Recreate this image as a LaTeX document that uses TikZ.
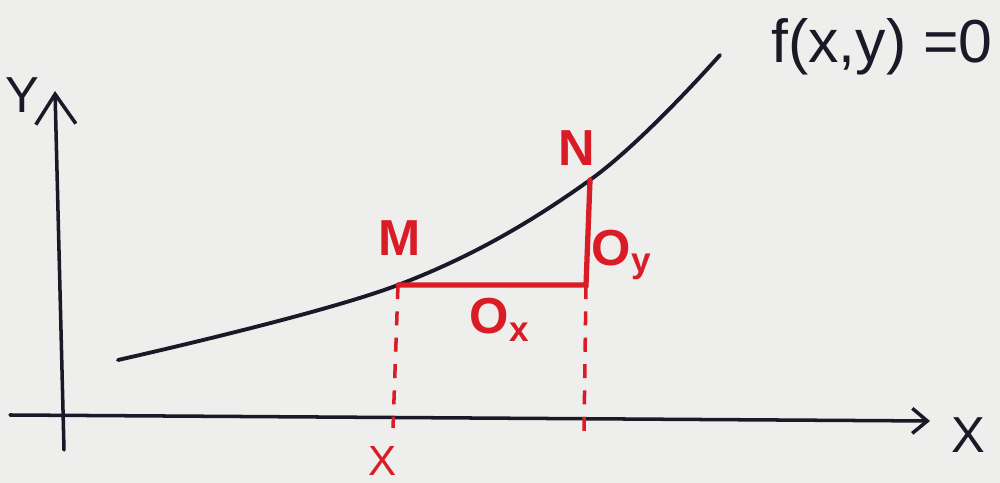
\documentclass[tikz,border=0pt]{standalone}
\usepackage{fontspec}
\setmainfont{Liberation Sans}
\usepackage{xcolor}
\usepackage{tikz}
\usetikzlibrary{positioning, arrows.meta}
\definecolor{paper}  {RGB}{238, 238, 236}
\definecolor{inkblack}{RGB}{25,  25,  40}
\definecolor{inkred} {RGB}{218, 28,  38}
\tikzset{
  axisline/.style={
    draw=inkblack, line width=1pt, line cap=round,
    -{Straight Barb[length=3mm, width=4mm]}
  },
  curveline/.style={
    draw=inkblack, line width=1.1pt, line cap=round
  },
  stepline/.style={
    draw=inkred, line width=1.5pt, line cap=round
  },
  dropline/.style={
    draw=inkred, line width=1pt, dash pattern=on 4pt off 3.5pt
  },
  blacklabel/.style={
    text=inkblack, font=\Large, inner sep=1pt
  },
  redlabel/.style={
    text=inkred, font=\Large\bfseries, inner sep=1pt
  },
}
\begin{document}
\begin{tikzpicture}
  % Paper
  \useasboundingbox[fill=paper] (0,0) rectangle (10,4.83);

  % Axes
  \coordinate (ybot) at (0.64,0.33);
  \coordinate (ytop) at (0.55,3.92);
  \coordinate (xleft) at (0.10,0.68);
  \coordinate (xright) at (9.30,0.62);
  \draw[axisline] (ybot) -- (ytop);
  \draw[axisline, -{Straight Barb[length=1.5mm, width=2.5mm]}] (xleft) -- (xright);
  \node[blacklabel] (ylab) at (0.22,3.88) {Y};
  \node[blacklabel] (xlab) at (9.68,0.48) {X};

  % Curve f(x,y)=0
  \coordinate (c0) at (1.18,1.23);
  \coordinate (M) at (3.98,1.98);
  \coordinate (N) at (5.90,3.03);
  \coordinate (c1) at (7.20,4.28);
  \draw[curveline] plot[smooth, tension=0.6] coordinates {(c0) (M) (N) (c1)};
  \node[blacklabel, font=\LARGE] (flab) at (8.82,4.36) {f(x,y) =0};

  % Increments
  \coordinate (K) at (5.86,1.98);
  \draw[stepline] (M) -- (K) -- (N);
  \node[redlabel] (Mlab) at (4.00,2.45) {M};
  \node[redlabel] (Nlab) at (5.77,3.35) {N};
  \node[redlabel] (oxlab) at (5.00,1.63) {O$_{\mathbf{x}}$};
  \node[redlabel] (oylab) at (6.22,2.28) {O$_{\mathbf{y}}$};

  % Projections
  \coordinate (Mx) at (3.93,0.55);
  \coordinate (Kx) at (5.84,0.52);
  \draw[dropline] (M) -- (Mx);
  \draw[dropline] (K) -- (Kx);
  \node[redlabel, font=\large] (xm) at (3.83,0.22) {X};
\end{tikzpicture}
\end{document}
